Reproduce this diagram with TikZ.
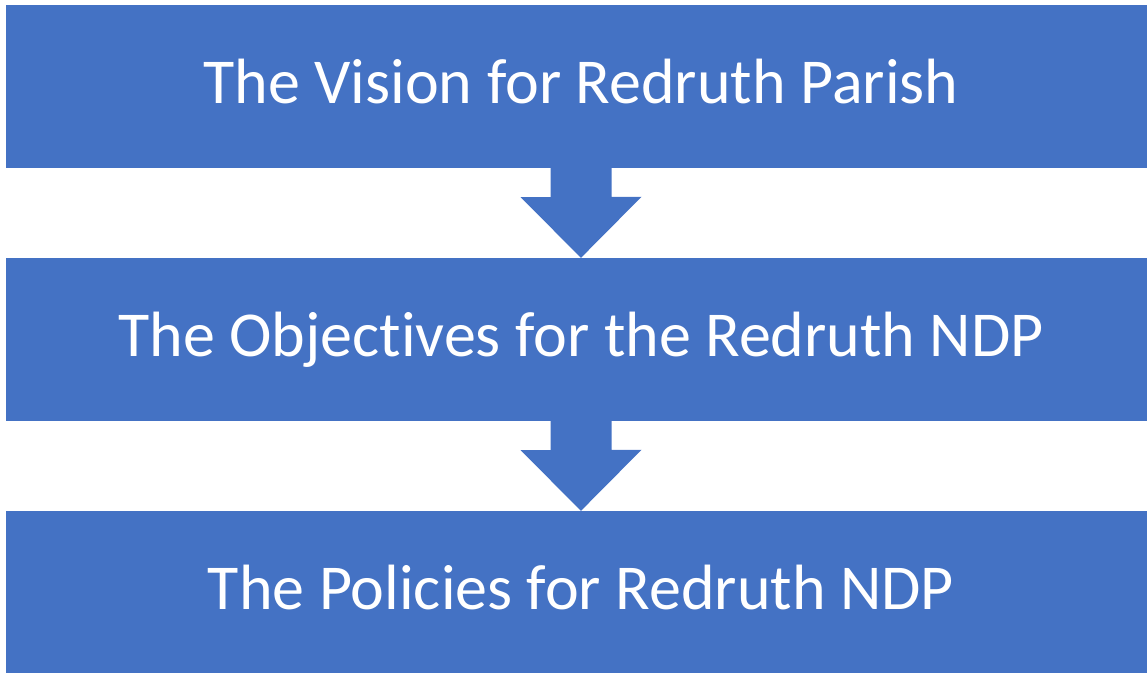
\documentclass[tikz,border=0pt]{standalone}
\usepackage{fontspec}
\setmainfont{Carlito}[Ligatures=NoCommon]
\usetikzlibrary{calc}
\definecolor{obl}{HTML}{4472C4}
\newcommand{\blockarrow}[2]{%
  \fill[obl] ($(#1.south)+(-30.5,0)$) -- ++(0,29) -- ++(-30,0)
    -- (#2.north) -- ++(60.5,-61) -- ++(-30,0) -- ++(0,-29) -- cycle;}
\begin{document}
\begin{tikzpicture}[x=1pt,y=-1pt,
  blk/.style={fill=obl,draw=none,minimum width=1150pt,minimum height=163pt,inner sep=0pt,
    text height=48pt,text depth=15pt,text=white,font=\fontsize{64}{77}\selectfont}]
\useasboundingbox (0,0) rectangle (1147,672);
\clip (0,0) rectangle (1147,672);
\node[blk] (b1) at (581,86.5) {The Vision for Redruth Parish};
\node[blk] (b2) at (581,339.5) {The Objectives for the Redruth NDP};
\node[blk] (b3) at (581,592.5) {The Policies for Redruth NDP};
\blockarrow{b1}{b2}
\blockarrow{b2}{b3}
\end{tikzpicture}
\end{document}
